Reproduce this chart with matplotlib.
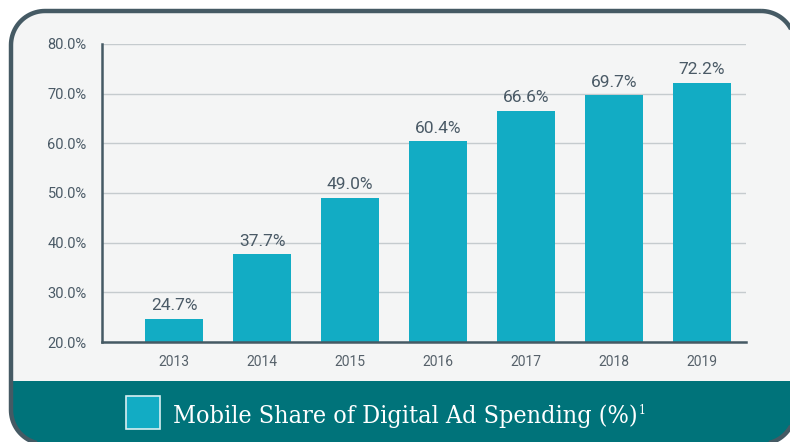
import matplotlib
matplotlib.use("Agg")
import matplotlib.pyplot as plt
import numpy as np
from matplotlib.patches import Polygon, Rectangle

# data
years = ["2013", "2014", "2015", "2016", "2017", "2018", "2019"]
share = [24.7, 37.7, 49.0, 60.4, 66.6, 69.7, 72.2]
y_ticks = [20, 30, 40, 50, 60, 70, 80]
legend_label = "Mobile Share of Digital Ad Spending (%)"

bar_color = "#12acc4"
band_color = "#00737a"
frame_color = "#455a64"
text_color = "#4a5a66"

W, H = 790, 442
fig = plt.figure(figsize=(W / 100, H / 100), dpi=100)
fig.patch.set_facecolor("white")

# background card, pixel coordinates (origin top-left)
bg = fig.add_axes([0, 0, 1, 1])
bg.set_xlim(0, W)
bg.set_ylim(H, 0)
bg.axis("off")


def rounded_rect(x0, y0, x1, y1, r, n=24):
    # corners as polyline arcs (avoids bezier clipping glitches off-canvas)
    pts = []
    corners = [(x1 - r, y0 + r, -90, 0), (x1 - r, y1 - r, 0, 90),
               (x0 + r, y1 - r, 90, 180), (x0 + r, y0 + r, 180, 270)]
    for cx, cy, a0, a1 in corners:
        t = np.radians(np.linspace(a0, a1, n))
        pts.extend(zip(cx + r * np.cos(t), cy + r * np.sin(t)))
    return np.array(pts)


outline = rounded_rect(11, 11, 795, 444, 34)
card = Polygon(outline, closed=True, facecolor="#f4f5f5", edgecolor="none", zorder=1)
bg.add_patch(card)
band = Rectangle((0, 381), W, 70, facecolor=band_color, edgecolor="none", zorder=2)
bg.add_patch(band)
band.set_clip_path(card)
bg.add_patch(Polygon(outline, closed=True, fill=False, edgecolor=frame_color,
                     linewidth=3.2, joinstyle="round", zorder=3))

# legend swatch + label
bg.add_patch(Rectangle((125.5, 395.5), 34, 33, facecolor=bar_color,
                       edgecolor="#d8eff2", linewidth=1.2, zorder=4))
leg = bg.text(173, 423, legend_label, color="white", fontsize=18,
              family="DejaVu Serif", fontstretch="condensed", va="baseline",
              ha="left", zorder=4)
fig.canvas.draw()
ext = leg.get_window_extent()
x_sup = bg.transData.inverted().transform((ext.x1, 0))[0]
bg.text(x_sup + 1, 414, "1", color="white", fontsize=8.5, family="DejaVu Serif",
        fontstretch="condensed", va="baseline", ha="left", zorder=4)

# main chart
ax = fig.add_axes([102 / W, (H - 342) / H, (746 - 102) / W, (342 - 44) / H])
ax.set_facecolor("none")
x = list(range(len(years)))
bars = ax.bar(x, share, width=0.66, color=bar_color, zorder=3)
ax.set_ylim(20, 80)
ax.set_xlim(-0.82, 6.5)

ax.set_yticks(y_ticks)
ax.set_yticklabels(["%.1f%%" % v for v in y_ticks])
ax.set_xticks(x)
ax.set_xticklabels(years)
ax.yaxis.grid(True, color="#c5cbce", linewidth=1, zorder=0)
ax.tick_params(axis="y", length=0, pad=11, labelsize=10.5, labelcolor=text_color)
ax.tick_params(axis="x", length=0, pad=9, labelsize=10, labelcolor="#56616a")
for lbl in ax.get_xticklabels() + ax.get_yticklabels():
    lbl.set_family("Roboto")

for s in ["top", "right"]:
    ax.spines[s].set_visible(False)
for s in ["left", "bottom"]:
    ax.spines[s].set_color(frame_color)
    ax.spines[s].set_linewidth(1.8)
    ax.spines[s].set_zorder(4)

for rect, v in zip(bars, share):
    ax.annotate("%.1f%%" % v, xy=(rect.get_x() + rect.get_width() / 2, v),
                xytext=(0, 4), textcoords="offset points", ha="center", va="bottom",
                fontsize=12.5, family="Roboto", color=text_color)

fig.savefig("out.png", dpi=100, facecolor=fig.get_facecolor())
